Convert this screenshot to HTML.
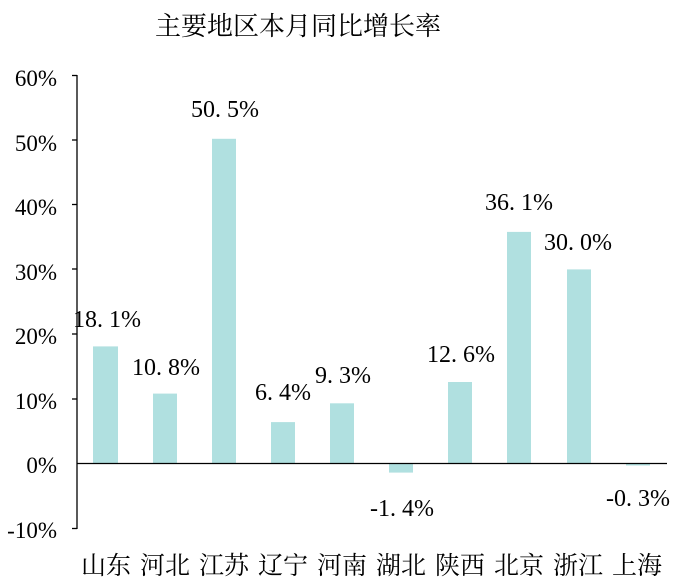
<!DOCTYPE html>
<html><head><meta charset="utf-8"><style>
html,body{margin:0;padding:0;background:#fff;}
svg{display:block;}
text{font-family:"Liberation Serif","Noto Serif CJK SC",serif;fill:#000;}
</style></head><body>
<svg width="684" height="585" viewBox="0 0 684 585" xmlns="http://www.w3.org/2000/svg">
<text x="298" y="35" font-size="26" text-anchor="middle">主要地区本月同比增长率</text>
<g font-size="23" text-anchor="end">
<text x="57" y="86">60%</text>
<text x="57" y="151">50%</text>
<text x="57" y="215">40%</text>
<text x="57" y="280">30%</text>
<text x="57" y="344">20%</text>
<text x="57" y="409">10%</text>
<text x="57" y="473">0%</text>
<text x="57" y="538">-10%</text>
</g>
<g stroke="#000" stroke-width="1.3">
<line x1="77" y1="75" x2="77" y2="529"/>
<line x1="72" y1="75.5" x2="77" y2="75.5"/>
<line x1="72" y1="140" x2="77" y2="140"/>
<line x1="72" y1="204.5" x2="77" y2="204.5"/>
<line x1="72" y1="269" x2="77" y2="269"/>
<line x1="72" y1="334" x2="77" y2="334"/>
<line x1="72" y1="399" x2="77" y2="399"/>
<line x1="72" y1="528.5" x2="77" y2="528.5"/>
</g>
<g fill="#b0e0e0">
<rect x="93" y="346.4" width="25" height="117.1"/>
<rect x="153" y="393.6" width="24" height="69.9"/>
<rect x="212" y="138.8" width="24" height="324.7"/>
<rect x="271" y="422.1" width="24" height="41.4"/>
<rect x="330" y="403.3" width="24" height="60.2"/>
<rect x="389" y="463.5" width="24" height="9.1"/>
<rect x="448" y="382" width="24" height="81.5"/>
<rect x="507" y="231.9" width="24" height="231.6"/>
<rect x="567" y="269.4" width="24" height="194.1"/>
<rect x="626" y="463.5" width="24" height="2"/>
</g>
<line x1="77" y1="463.5" x2="667" y2="463.5" stroke="#000" stroke-width="1.3"/>
<g font-size="24" text-anchor="middle">
<text x="107" y="327">18. 1%</text>
<text x="166" y="375">10. 8%</text>
<text x="225" y="117">50. 5%</text>
<text x="283" y="400">6. 4%</text>
<text x="343" y="383">9. 3%</text>
<text x="402" y="516">-1. 4%</text>
<text x="461" y="362">12. 6%</text>
<text x="519" y="210">36. 1%</text>
<text x="578" y="250">30. 0%</text>
<text x="638" y="506">-0. 3%</text>
</g>
<g font-size="25" text-anchor="middle">
<text x="106" y="574">山东</text>
<text x="165" y="574">河北</text>
<text x="224" y="574">江苏</text>
<text x="283" y="574">辽宁</text>
<text x="342" y="574">河南</text>
<text x="401" y="574">湖北</text>
<text x="460" y="574">陕西</text>
<text x="519" y="574">北京</text>
<text x="578" y="574">浙江</text>
<text x="637" y="574">上海</text>
</g>
</svg>
</body></html>
